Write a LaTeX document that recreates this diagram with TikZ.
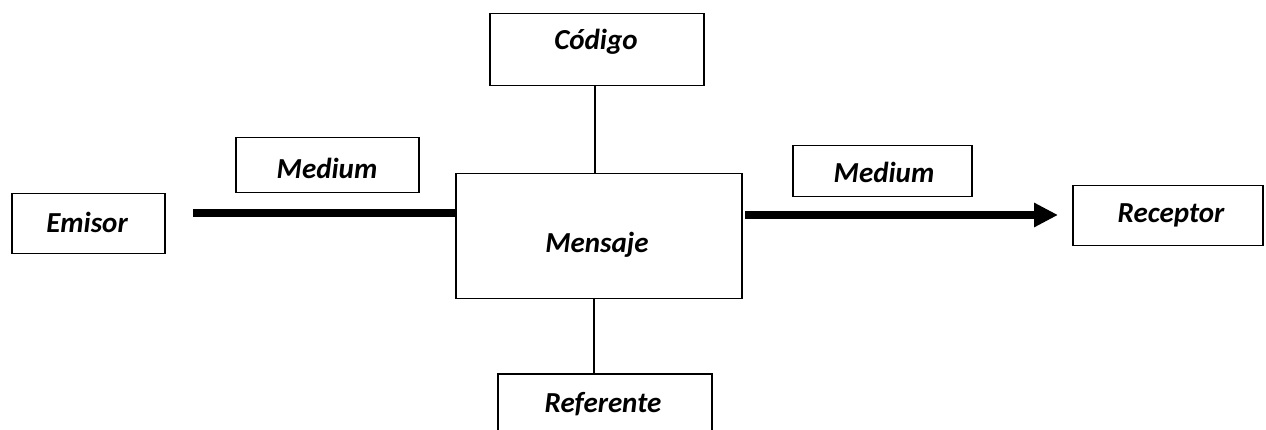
\documentclass[tikz,border=0pt]{standalone}
\usepackage{fontspec}
\setmainfont{Carlito}
\usetikzlibrary{arrows.meta}
\begin{document}
\begin{tikzpicture}[x=1pt,y=-1pt,
  box/.style={draw,line width=1.5pt,inner sep=0pt,anchor=north west},
  txt/.style={font=\fontsize{29}{34}\selectfont\bfseries\itshape,inner sep=0pt},
  thin/.style={line width=1.4pt},
  thick/.style={line width=7.5pt}]
\useasboundingbox (0,0) rectangle (1266,430);
% boxes
\node[box,minimum width=153pt,minimum height=60pt] (emisor) at (11,193) {};
\node[box,minimum width=183pt,minimum height=55pt] (medL) at (235,137) {};
\node[box,minimum width=286pt,minimum height=125pt] (mensaje) at (455,173) {};
\node[box,minimum width=214pt,minimum height=72pt] (codigo) at (489,13) {};
\node[box,minimum width=179pt,minimum height=51pt] (medR) at (792,145) {};
\node[box,minimum width=190pt,minimum height=60pt] (receptor) at (1072,185) {};
\node[box,minimum width=214pt,minimum height=80pt] (referente) at (497,373) {};
% labels
\node[txt] (emisor-t) at (87,222) {Emisor};
\node[txt] (medL-t) at (327,168) {Medium};
\node[txt] (mensaje-t) at (597,245) {Mensaje};
\node[txt] (codigo-t) at (596,42) {Código};
\node[txt] (medR-t) at (884,172) {Medium};
\node[txt] (receptor-t) at (1171,215) {Receptor};
\node[txt] (referente-t) at (603,404) {Referente};
% connectors
\coordinate (startL) at (193,213);
\draw[thick] (startL) -- (startL -| mensaje.west);
\coordinate (startR) at (745,215);
\coordinate (tipR) at (1058,215);
\draw[thick,-{Triangle[length=24pt,width=23pt]}] (startR) -- (tipR);
\draw[thin] (codigo.south -| 595,0) -- (mensaje.north -| 595,0);
\draw[thin] (mensaje.south -| 594,0) -- (referente.north -| 594,0);
\end{tikzpicture}
\end{document}
